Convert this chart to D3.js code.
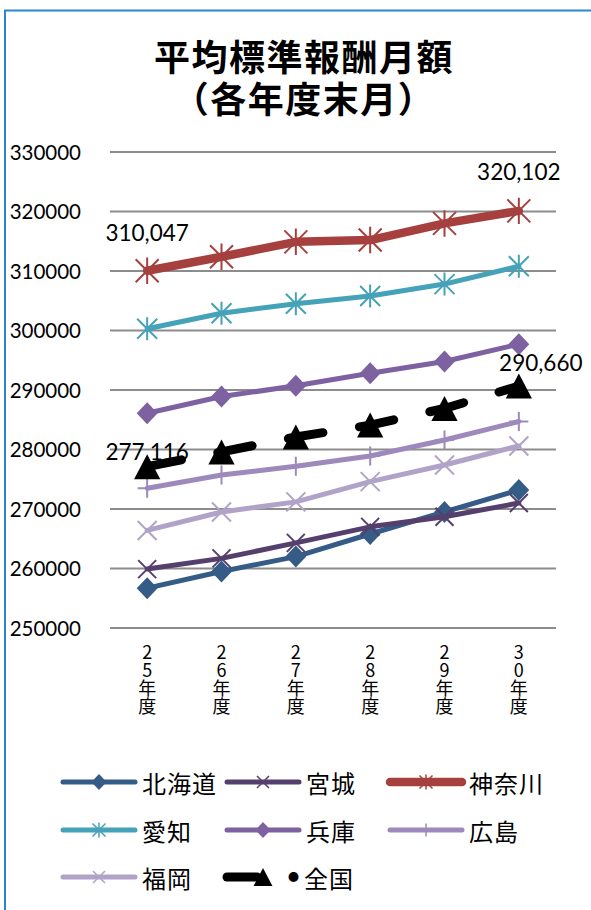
<!DOCTYPE html>
<html><head><meta charset="utf-8">
<script src="https://cdn.jsdelivr.net/npm/d3@7"></script>
<style>
html,body{margin:0;padding:0;background:#fff;}
svg{display:block;}
.vt{writing-mode:vertical-rl;text-orientation:upright;}
</style></head>
<body>
<script>
// ---- data ----
const years = ["25年度","26年度","27年度","28年度","29年度","30年度"];
const yTicks = [250000,260000,270000,280000,290000,300000,310000,320000,330000];
const hokkaido = [256700,259500,262000,265800,269500,273200];
const miyagi   = [259900,261700,264300,267000,268700,271000];
const kanagawa = [310047,312400,314900,315200,318000,320102];
const aichi    = [300300,302900,304500,305800,307800,310800];
const hyogo    = [286100,288900,290700,292800,294800,297700];
const hiroshima= [273500,275700,277200,278900,281600,284700];
const fukuoka  = [266400,269500,271200,274600,277400,280600];
const zenkoku  = [277116,279600,282100,284100,286900,290660];
const seriesNames = ["北海道","宮城","神奈川","愛知","兵庫","広島","福岡","全国"];

const series = [
  {name:"北海道", values:hokkaido, color:"#355c87", width:5, marker:"diamond", ms:11, lms:8},
  {name:"宮城", values:miyagi, color:"#553f6d", width:5, marker:"x", ms:9, lms:6},
  {name:"神奈川", values:kanagawa, color:"#a6403e", width:8.5, marker:"star", ms:11.5, lms:6.5},
  {name:"愛知", values:aichi, color:"#45a2b9", width:5, marker:"star", ms:10, lms:6.5},
  {name:"兵庫", values:hyogo, color:"#7d61a0", width:5, marker:"diamond", ms:11, lms:8},
  {name:"広島", values:hiroshima, color:"#9d89bb", width:5, marker:"plus", ms:9.5, lms:6.5},
  {name:"福岡", values:fukuoka, color:"#b1a3c7", width:5, marker:"x", ms:9.5, lms:6},
  {name:"全国", values:zenkoku, color:"#000000", width:9, marker:"triangle", ms:12.5, lms:9, dash:"35,37", ldash:"30,80"}
];

const W=591,H=910;
const svg = d3.select("body").append("svg").attr("width",W).attr("height",H);

// border
svg.append("rect").attr("x",5).attr("y",10.5).attr("width",700).attr("height",1000)
  .attr("fill","none").attr("stroke","#2a86d1").attr("stroke-width",2);

// title
const title = svg.append("text").attr("text-anchor","middle")
  .attr("font-family","'Noto Sans CJK JP'").attr("font-weight","bold")
  .attr("font-size",36).attr("fill","#000").attr("letter-spacing",1.5);
title.append("tspan").attr("x",304).attr("y",71).text("平均標準報酬月額");
title.append("tspan").attr("x",304).attr("y",113).text("（各年度末月）");

// scales
const x = d3.scalePoint().domain(years).range([110,556]).padding(0.5);
const y = d3.scaleLinear().domain([250000,330000]).range([628,152]);

// gridlines
svg.append("g").selectAll("line").data(yTicks).join("line")
  .attr("x1",110).attr("x2",556)
  .attr("y1",d=>y(d)).attr("y2",d=>y(d))
  .attr("stroke","#8c8c8c").attr("stroke-width",2);

// y axis labels
const yAxis = d3.axisLeft(y).tickValues(yTicks).tickFormat(d3.format("d")).tickSize(0).tickPadding(0);
const gy = svg.append("g").attr("transform","translate(81,0)").call(yAxis);
gy.select(".domain").remove();
gy.selectAll("text").attr("font-family","Lato").attr("font-size",20.5).attr("fill","#000").attr("dy","0.35em");

// x axis labels (vertical, upright)
svg.append("g").selectAll("text").data(years).join("text")
  .attr("class","vt")
  .attr("x",d=>x(d)).attr("y",643)
  .attr("font-family","'Noto Sans CJK JP'").attr("font-size",18).attr("fill","#000")
  .text(d=>d);

// marker path generator
function markerPath(type, s){
  switch(type){
    case "diamond": return `M0,${-s}L${s*0.95},0L0,${s}L${-s*0.95},0Z`;
    case "x": return `M${-s},${-s}L${s},${s}M${-s},${s}L${s},${-s}`;
    case "star": return `M${-s},${-s}L${s},${s}M${-s},${s}L${s},${-s}M0,${-s*1.15}L0,${s*1.15}`;
    case "plus": return `M0,${-s}L0,${s}M${-s},0L${s},0`;
    case "triangle": return `M0,${-s}L${s*1.05},${s}L${-s*1.05},${s}Z`;
  }
}
const filled = t => t==="diamond"||t==="triangle";

const line = d3.line().x((d,i)=>x(years[i])).y(d=>y(d));

series.forEach(s=>{
  const g = svg.append("g");
  g.append("path").datum(s.values).attr("d",line)
    .attr("fill","none").attr("stroke",s.color).attr("stroke-width",s.width)
    .attr("stroke-linejoin","round").attr("stroke-linecap","round")
    .attr("stroke-dasharray",s.dash||null);
  g.selectAll("path.m").data(s.values).join("path").attr("class","m")
    .attr("transform",(d,i)=>`translate(${x(years[i])},${y(d)})`)
    .attr("d",markerPath(s.marker,s.ms))
    .attr("fill",filled(s.marker)?s.color:"none")
    .attr("stroke",s.color).attr("stroke-width",filled(s.marker)?0:2);
});

// data labels
const fmt = d3.format(",");
const labels = [
  {v:kanagawa[0], i:0, dy:-30, dx:0},
  {v:kanagawa[5], i:5, dy:-31, dx:0},
  {v:zenkoku[0], i:0, dy:-7, dx:0},
  {v:zenkoku[5], i:5, dy:-15, dx:22}
];
svg.append("g").selectAll("text").data(labels).join("text")
  .attr("x",d=>x(years[d.i])+d.dx).attr("y",d=>y(d.v)+d.dy)
  .attr("text-anchor","middle").attr("font-family","Lato").attr("font-size",22.5).attr("fill","#000")
  .text(d=>fmt(d.v));

// legend
const legCols = [63,227,390];
const legRows = [782,830,877];
const lg = svg.append("g");
series.forEach((s,k)=>{
  const cx = legCols[k%3], cy = legRows[Math.floor(k/3)];
  const len = 72;
  const g = lg.append("g");
  g.append("line").attr("x1",cx).attr("x2",cx+len).attr("y1",cy).attr("y2",cy)
    .attr("stroke",s.color).attr("stroke-width",s.width).attr("stroke-linecap","round")
    .attr("stroke-dasharray",s.ldash||null);
  g.append("path").attr("transform",`translate(${cx+len/2},${cy})`)
    .attr("d",markerPath(s.marker,s.lms))
    .attr("fill",filled(s.marker)?s.color:"none")
    .attr("stroke",s.color).attr("stroke-width",filled(s.marker)?0:1.5);
  const t = g.append("text").attr("y",cy).attr("dominant-baseline","central")
    .attr("font-family","'Noto Sans CJK JP'").attr("font-size",24).attr("letter-spacing",1)
    .attr("fill","#000");
  if (s.dash) {
    t.attr("x",cx+len-11);
    t.append("tspan").attr("font-size",11).attr("dy",-1).text("●");
    t.append("tspan").attr("dx",4).attr("dy",1).text(s.name);
  } else {
    t.attr("x",cx+len+7).text(s.name);
  }
});
</script>
</body></html>
